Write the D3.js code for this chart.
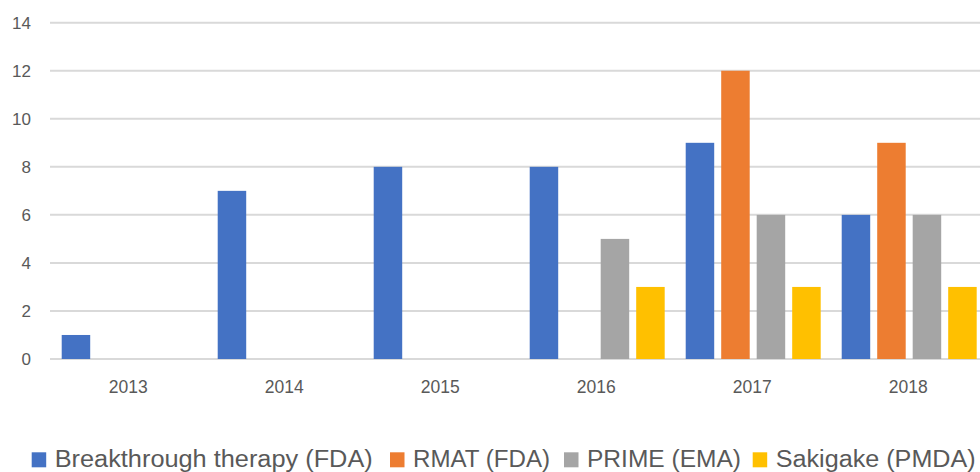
<!DOCTYPE html>
<html>
<head>
<meta charset="utf-8">
<script src="https://cdn.jsdelivr.net/npm/d3@7"></script>
<style>
  body { margin: 0; background: #fff; }
  svg { display: block; font-family: "Liberation Sans", Arial, sans-serif; }
</style>
</head>
<body>
<script>
const WIDTH = 980;
const HEIGHT = 472;

// data
const years = ["2013", "2014", "2015", "2016", "2017", "2018"];
const seriesNames = ["Breakthrough therapy (FDA)", "RMAT (FDA)", "PRIME (EMA)", "Sakigake (PMDA)"];
const breakthrough = [1, 7, 8, 8, 9, 6];
const rmat = [0, 0, 0, 0, 12, 9];
const prime = [0, 0, 0, 5, 6, 6];
const sakigake = [0, 0, 0, 3, 3, 3];
const yTicks = [0, 2, 4, 6, 8, 10, 12, 14];
const colors = ["#4472C4", "#ED7D31", "#A5A5A5", "#FFC000"];

const values = [breakthrough, rmat, prime, sakigake];
const rows = years.flatMap((y, i) =>
    seriesNames.map((s, j) => ({ year: y, series: s, value: values[j][i], color: colors[j] }))
);

const svg = d3.select("body")
    .append("svg")
    .attr("width", WIDTH)
    .attr("height", HEIGHT);

// plot runs a bit past the right edge like the cropped original
const x = d3.scaleBand()
    .domain(years)
    .range([51.2, 51.2 + 156 * years.length]);

const xInner = d3.scaleBand()
    .domain(seriesNames)
    .range([0, x.bandwidth()])
    .paddingInner(0.197)
    .paddingOuter(0.296);

const y = d3.scaleLinear()
    .domain([0, 14])
    .range([359, 22.7]);

// gridlines
svg.append("g")
    .selectAll("line")
    .data(yTicks)
    .join("line")
    .attr("x1", 50)
    .attr("x2", WIDTH)
    .attr("y1", d => y(d))
    .attr("y2", d => y(d))
    .attr("stroke", "#D9D9D9")
    .attr("stroke-width", 2);

// y labels
svg.append("g")
    .selectAll("text")
    .data(yTicks)
    .join("text")
    .attr("x", 31)
    .attr("y", d => y(d))
    .attr("dy", "0.36em")
    .attr("text-anchor", "end")
    .attr("font-size", 17)
    .attr("fill", "#595959")
    .text(d => d);

// bars
svg.append("g")
    .selectAll("rect")
    .data(rows.filter(d => d.value > 0))
    .join("rect")
    .attr("x", d => x(d.year) + xInner(d.series))
    .attr("width", xInner.bandwidth())
    .attr("y", d => y(d.value))
    .attr("height", d => y(0) - y(d.value))
    .attr("fill", d => d.color);

// x labels
svg.append("g")
    .selectAll("text")
    .data(years)
    .join("text")
    .attr("x", d => x(d) + x.bandwidth() / 2 - 1)
    .attr("y", 392.5)
    .attr("text-anchor", "middle")
    .attr("font-size", 17.5)
    .attr("fill", "#595959")
    .text(d => d);

// legend
const legendX = [31.7, 390, 564, 752.7];
const legendW = [318, 137, 154, 200];
const legend = svg.append("g")
    .selectAll("g")
    .data(seriesNames)
    .join("g")
    .attr("transform", (d, i) => `translate(${legendX[i]} 452.3)`);

legend.append("rect")
    .attr("width", 14.5)
    .attr("height", 15)
    .attr("fill", (d, i) => colors[i]);

legend.append("text")
    .attr("x", 23)
    .attr("y", 14.8)
    .attr("font-size", 23)
    .attr("fill", "#595959")
    .attr("textLength", (d, i) => legendW[i])
    .attr("lengthAdjust", "spacingAndGlyphs")
    .text(d => d);
</script>
</body>
</html>
